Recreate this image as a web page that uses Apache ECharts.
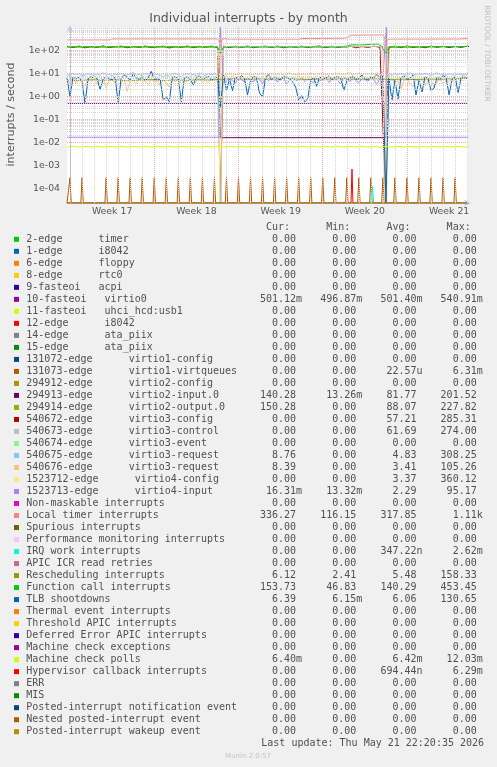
<!DOCTYPE html>
<html><head><meta charset="utf-8">
<script src="https://cdn.jsdelivr.net/npm/echarts@6/dist/echarts.min.js"></script>
<style>html,body{margin:0;padding:0;background:#F0F0F0}#c{width:497px;height:767px}</style>
</head><body><div id="c"></div>
<script>
// ---------- axis ranges (days since Sunday of week 17) ----------
const X_MIN = -0.25, X_MAX = 33.07;
const Y_MIN = 2.39e-5, Y_MAX = 962;
const WEEK_LABELS = ['Week 17', 'Week 18', 'Week 19', 'Week 20', 'Week 21'];
const WEEK_STARTS = [0, 7, 14, 21, 28];
const REBOOT1 = 12.5, REBOOT2 = 26.25;
const SPIKE_TOP = 2000;

// ---------- series values ----------
const VIRTIO0 = [[-0.25, 0.506], [33.07, 0.506]];
const VQ_SPIKES = [[0,3e-4],[1,3e-4],[3,3e-4],[4,3e-4],[5,3e-4],[6,3e-4],[7,3e-4],[8,3e-4],[9,3e-4],[10,3e-4],[11,3e-4],[12,3e-4],[13,3e-4],[14,3e-4],[15,3e-4],[16,3e-4],[17,3e-4],[18,3e-4],[19,3e-4],[20,3e-4],[21,3e-4],[22,3e-4],[23,3e-4],[24,3e-4],[25,3e-4],[26,3e-4],[27,3e-4],[28,3e-4],[29,3e-4],[30,3e-4],[31,3e-4],[32,3e-4]];
const V2IN_A = [155,136,158,132,150,138,160,134,148,157,133,152,137,159,135,146,156,131,150,139,158,134,153,140,157,136];
const V2IN_LOW = 0.0165;
const V2IN_C = [140,156,134,158,137,150,133,157,139,155,135,152,138,156,140];
const V2OUT = [[-0.25,150],[12.25,150],[12.5,0],[26.25,0],[26.5,150],[33.07,150]];
const V3CFG_B = [157,134,155,138,159,133,150,156,136,158,132,153,139,157,135,151,158,134,156,137,152,159,133,150,138,155,140];
const V3CTL = [[-0.25,0],[12.5,0],[12.75,150],[26.0,150],[26.25,0],[33.07,0]];
const LB_A = [9.2,8.1,10.4,8.8,9.6,7.9,8.5,10.1,9.0,8.3, 9.7,8.6,10.8,8.9,9.3,7.8,9.9,8.4,10.2,9.1, 8.7,9.8,11.2,8.5,9.4,8.0,10.3,9.2,12.5,8.8, 9.5,8.2,7.1,8.9,7.6,9.7,10.5,8.6,7.4,9.3, 10.1,8.7,9.4,8.1,10.6,9.0,8.4,9.8,8.9,9.5, 8.8];
const LB_C = [9.6,8.3,9.9, 8.7,10.2,9.1,8.5,10.7,9.3,8.6,9.8,8.9,10.4, 9.2,8.4,9.7,10.9,8.8,9.5,8.2,9.9,9.0,8.6, 9.4,8.9,9.6,8.8];
const LO_A = [5.2,4.1,6.3,3.8,5.6,4.7,2.9,5.9,4.4,6.1, 3.5,4.9,5.7,2.4,4.6,5.3,3.9,6.0,4.2,5.5, 1.7,4.8,5.1,3.6,6.4,4.5,5.0,3.3,5.8,4.3, 4.9,3.1,5.4,4.0,2.6,5.7,4.4,6.2,3.7,5.0, 4.6,5.5,3.4,4.8,6.0,4.1,5.2,3.9,5.6,4.7, 5.0];
const LO_C = [4.2,5.6,3.5, 5.1,2.2,4.7,5.9,3.8,2.7,5.3,4.5,6.1,3.2, 4.9,5.6,2.5,4.3,5.8,3.6,5.0,4.4,6.3,3.9, 5.4,7.6,8.9,8.4];
const YE_B = [9.1,8.2,10.5,7.8,9.6,8.7,11.0,8.4, 9.9,7.6,10.3,8.9,9.2,11.4,8.1,9.7,10.6,8.5, 9.4,10.8,8.3,9.0,11.6,8.8,9.5,7.9,10.1,9.3, 8.6,10.4,9.8,8.0,11.1,9.2,8.7,10.0,9.6,8.4, 10.7,9.1,8.5,9.9,11.3,8.9,9.4,10.2,8.2,9.7, 10.5,8.8,9.3,11.8,9.0,10.1];
const LV_LOW = 0.0172;
const LV_B = [5.8,4.6,6.9,5.1,3.9,6.3,5.5,4.2, 6.7,5.0,4.4,7.2,5.6,3.7,6.1,4.8,5.9,6.6, 4.3,5.7,6.4,3.5,5.2,6.8,4.9,5.4,7.0,4.5, 6.0,5.3,3.8,6.5,4.7,5.8,7.3,4.1,5.6,6.2, 4.9,3.6,6.8,5.5,4.4,7.1,5.0,3.9,6.4,5.7, 4.6,6.9,5.2,3.4,6.1,5.5];
const LOCAL_TIMER = [[-0.25,292],[3.3,292],[3.5,323],[12.25,323],[12.5,230],[12.75,350],[13.0,313],[19.1,313],[19.3,335],[22.6,346],[23.1,367],[23.3,470],[26.0,481],[26.25,264],[26.5,313],[32.5,320],[33.07,346]];
const IRQ_WORK = [[-0.25,0],[25.03,0],[25.13,1.3e-4],[25.23,0],[33.07,0]];
const RESCHED = [5.2,5.0,5.4,5.1,5.3,4.9,5.2,5.5,5.0,5.3,5.1,5.4,5.2, 5.9,6.1,5.7,6.0,5.8,6.2,5.9,5.6,6.0,5.8,6.1,5.7,5.9,6.0, 5.6,5.8,5.5,5.9,5.7,6.0,6.1];
const FUNC_CALL = [[-0.25,142],[12.25,142],[12.5,77],[12.75,138],[13.0,142],[23.1,142],[23.3,177],[24.3,177],[24.4,195],[25.6,195],[25.9,150],[26.25,77],[26.5,140],[32.5,148],[33.07,154]];
const TLB = [6.5,1.0,7.2,5.8,6.9,4.6,0.5,5.9,7.5,6.1, 6.2,2.1,5.6,7.9,6.0,5.5,7.1,0.5,6.3,8.4, 7.0,5.1,9.8,6.4,5.7,7.3,4.9,6.6,12.5,5.4, 6.0,5.2,0.7,1.0,0.6,6.8,7.5,5.9,0.6,6.4, 7.2,5.5,3.3,6.9,8.0,5.8,6.6,7.7,5.1,6.3, 7.0,0.35,9.5,1.8,6.2,1.8,7.4,5.6,8.2,6.1, 1.2,5.0,7.8,6.3,1.4,1.0,6.7,8.9,5.4,7.1, 6.0,5.3,7.6,6.8,5.9,4.4,2.6,0.7,1.1,0.6, 0.8,5.2,6.9,2.8,7.3,5.8,6.4,8.0,5.5,6.9, 7.5,6.1,1.9,4.8,6.6,7.9,5.7,6.3,8.7,6.0, 5.4,7.2,6.5,9.3,6.8,7.7,0,6.5,0.7,5.3, 0.8,6.7,7.9,5.6,6.3,8.8,1.2,5.1,1.6,7.4, 6.2,1.8,2.4,7.0,5.9,8.3,6.6,1.2,5.7,7.2, 1.5,6.8,7.1,6.4];
const MC_POLLS = [0.0064,0.0070,0.0064,0.0070,0.0064,0.0070,0.0064,0.0070,0.0064,0.0070,0.0064,0.0070,0.0064,0.0070,0.0064,0.0070,0.0064,0.0070,0.0064,0.0070,0.0064,0.0070,0.0064,0.0070,0.0064,0.0070,0.0064,0.0070,0.0064,0.0070,0.0064,0.0070,0.0064,0.0070,0.0064,0.0070,0.0064,0.0070,0.0064,0.0070,0.0064,0.0070,0.0064,0.0070,0.0064,0.0070,0.0064,0.0070,0.0064,0.0070,0.0064,0.0070,0.0064,0.0070,0.0064,0.0070,0.0064,0.0070,0.0064,0.0070,0.0064,0.0070,0.0064,0.0070,0.0064,0.0070,0.0064,0.0070];
const HYPERVISOR = [[-0.25,0],[23.35,0],[23.43,7e-4],[23.51,0],[33.07,0]];
const WAKEUP = [[-0.25,0],[33.07,0]];

// ---------- legend table ----------
const LEG_NAMES = ['2-edge      timer','1-edge      i8042','6-edge      floppy','8-edge      rtc0','9-fasteoi   acpi','10-fasteoi   virtio0','11-fasteoi   uhci_hcd:usb1','12-edge      i8042','14-edge      ata_piix','15-edge      ata_piix','131072-edge      virtio1-config','131073-edge      virtio1-virtqueues','294912-edge      virtio2-config','294913-edge      virtio2-input.0','294914-edge      virtio2-output.0','540672-edge      virtio3-config','540673-edge      virtio3-control','540674-edge      virtio3-event','540675-edge      virtio3-request','540676-edge      virtio3-request','1523712-edge      virtio4-config','1523713-edge      virtio4-input','Non-maskable interrupts','Local timer interrupts','Spurious interrupts','Performance monitoring interrupts','IRQ work interrupts','APIC ICR read retries','Rescheduling interrupts','Function call interrupts','TLB shootdowns','Thermal event interrupts','Threshold APIC interrupts','Deferred Error APIC interrupts','Machine check exceptions','Machine check polls','Hypervisor callback interrupts','ERR','MIS','Posted-interrupt notification event','Nested posted-interrupt event','Posted-interrupt wakeup event'];
const LEG_COLORS = ['#00CC00','#0066B3','#FF8000','#FFCC00','#330099','#990099','#CCFF00','#FF0000','#808080','#008F00','#00487D','#B35A00','#B38F00','#6B006B','#8FB300','#B30000','#BEBEBE','#80FF80','#80C9FF','#FFC080','#FFE680','#AA80FF','#EE00CC','#FF8080','#666600','#FFBFFF','#00FFCC','#CC6699','#999900','#00CC00','#0066B3','#FF8000','#FFCC00','#330099','#990099','#CCFF00','#FF0000','#808080','#008F00','#00487D','#B35A00','#B38F00'];
const CUR  = ['0.00','0.00','0.00','0.00','0.00','501.12m','0.00','0.00','0.00','0.00','0.00','0.00','0.00','140.28','150.28','0.00','0.00','0.00','8.76','8.39','0.00','16.31m','0.00','336.27','0.00','0.00','0.00','0.00','6.12','153.73','6.39','0.00','0.00','0.00','0.00','6.40m','0.00','0.00','0.00','0.00','0.00','0.00'];
const MINV = ['0.00','0.00','0.00','0.00','0.00','496.87m','0.00','0.00','0.00','0.00','0.00','0.00','0.00','13.26m','0.00','0.00','0.00','0.00','0.00','0.00','0.00','13.32m','0.00','116.15','0.00','0.00','0.00','0.00','2.41','46.83','6.15m','0.00','0.00','0.00','0.00','0.00','0.00','0.00','0.00','0.00','0.00','0.00'];
const AVG  = ['0.00','0.00','0.00','0.00','0.00','501.40m','0.00','0.00','0.00','0.00','0.00','22.57u','0.00','81.77','88.07','57.21','61.69','0.00','4.83','3.41','3.37','2.29','0.00','317.85','0.00','0.00','347.22n','0.00','5.48','140.29','6.06','0.00','0.00','0.00','0.00','6.42m','694.44n','0.00','0.00','0.00','0.00','0.00'];
const MAXV = ['0.00','0.00','0.00','0.00','0.00','540.91m','0.00','0.00','0.00','0.00','0.00','6.31m','0.00','201.52','227.82','285.31','274.00','0.00','308.25','105.26','360.12','95.17','0.00','1.11k','0.00','0.00','2.62m','0.00','158.33','453.45','130.65','0.00','0.00','0.00','0.00','12.03m','6.29m','0.00','0.00','0.00','0.00','0.00'];
const HEADERS = ['Cur:', 'Min:', 'Avg:', 'Max:'];
const LAST_UPDATE = 'Last update: Thu May 21 22:20:35 2026';

// ---------- helpers ----------
const G0 = -0.25, Q = 0.25, H = 0.5, D1 = 1, T2 = 0.1;
function onGrid(start, step, vals) { return vals.map((v, k) => [start + step * k, v]); }
function gi(i) { return G0 + Q * i; }
function line(name, color, pts) {
  return { type: 'line', name, data: pts.map(p => [p[0], p[1] <= 0 ? Y_MIN : p[1]]),
    showSymbol: false, symbol: 'none', silent: true, clip: true, animation: false,
    lineStyle: { color, width: 1 }, itemStyle: { color }, emphasis: { disabled: true } };
}
const C = LEG_COLORS;

const vq = [[X_MIN, 0]];
VQ_SPIKES.forEach(s => { vq.push([s[0] - T2, 0], [s[0], s[1]], [s[0] + T2, 0]); });
vq.push([X_MAX, 0]);

const v2in = onGrid(G0, H, V2IN_A).concat([[REBOOT1, V2IN_LOW], [REBOOT2, V2IN_LOW]], onGrid(26.5, H, V2IN_C));
const v3cfg = [[X_MIN, 0], [REBOOT1, 0]].concat(onGrid(12.75, H, V3CFG_B), [[REBOOT2, 0], [X_MAX, 0]]);
const lb = onGrid(G0, Q, LB_A).concat([[REBOOT1, 0], [REBOOT2, 0]], onGrid(gi(107), Q, LB_C));
const lo = onGrid(G0, Q, LO_A).concat([[REBOOT1, SPIKE_TOP], [REBOOT1 + T2, 0], [REBOOT2 - T2, 0], [REBOOT2, SPIKE_TOP]], onGrid(gi(107), Q, LO_C));
const ye = [[X_MIN, 0], [REBOOT1 - T2, 0], [REBOOT1, SPIKE_TOP]].concat(onGrid(gi(52), Q, YE_B), [[REBOOT2, SPIKE_TOP], [REBOOT2 + T2, 0], [X_MAX, 0]]);
const lv = [[X_MIN, LV_LOW], [REBOOT1 - T2, LV_LOW], [REBOOT1 - T2 / 2, SPIKE_TOP]].concat(onGrid(gi(52), Q, LV_B), [[REBOOT2 + T2 / 2, SPIKE_TOP], [REBOOT2 + T2, LV_LOW], [X_MAX, LV_LOW]]);
const resched = onGrid(G0, D1, RESCHED).concat([[X_MAX, RESCHED[RESCHED.length - 1]]]);

// grid lines
const vMinor = [], vMajor = [], hMinor = [], hMajor = [];
for (let d = 0; d <= 33; d++) (WEEK_STARTS.indexOf(d) >= 0 ? vMajor : vMinor).push(d);
for (let e = -5; e <= 2; e++) {
  const b = Math.pow(10, e);
  if (b > Y_MIN && b < Y_MAX) hMajor.push(b);
  for (let k = 2; k <= 9; k++) { const v = k * b; if (v > Y_MIN && v < Y_MAX) hMinor.push(v); }
}
const MINOR = { color: '#D4D4D4', type: [1, 1], width: 1 };
const MAJOR = { color: '#F2ABAB', type: [1, 1], width: 1 };
const gridSeries = {
  type: 'line', data: [[X_MIN, Y_MAX]], symbol: 'none', silent: true, lineStyle: { opacity: 0 }, animation: false,
  markLine: { silent: true, symbol: ['none', 'none'], label: { show: false }, animation: false, emphasis: { disabled: true },
    data: [].concat(
      vMinor.map(d => ({ xAxis: d, lineStyle: MINOR })),
      hMinor.map(v => ({ yAxis: v, lineStyle: MINOR })),
      vMajor.map(d => ({ xAxis: d, lineStyle: MAJOR })),
      hMajor.map(v => ({ yAxis: v, lineStyle: MAJOR }))) }
};

// graphics: titles and legend
const TXT = '#505050';
const MONO = '10px "DejaVu Sans Mono"';
const g = [];
function txt(x, y, text, font, fill, align, extra) {
  g.push(Object.assign({ type: 'text', x, y, silent: true, z: 100,
    style: { text, font, fill, align: align || 'left', verticalAlign: 'middle' } }, extra || {}));
}
txt(248.5, 19, 'Individual interrupts - by month', '12.5px "DejaVu Sans"', '#555', 'center');
txt(11, 114.5, 'interrupts / second', '11px "DejaVu Sans"', '#555', 'center', { rotation: Math.PI / 2 });
txt(487, 53.5, 'RRDTOOL / TOBI OETIKER', '7.5px "DejaVu Sans"', '#BDBDBD', 'center', { rotation: -Math.PI / 2 });
const ROW_Y0 = 239.3, ROW_H = 12.01, CH = 6.02;
const COL_X = [260, 320.2, 380.4, 440.6];
HEADERS.forEach((h, k) => txt(COL_X[k] + CH, ROW_Y0 - ROW_H, h, MONO, TXT));
function pad(s) { return (s + (/[a-zA-Z]$/.test(s) ? '' : ' ')).padStart(7, ' '); }
LEG_NAMES.forEach((n, i) => {
  const y = ROW_Y0 + i * ROW_H;
  g.push({ type: 'rect', silent: true, z: 100, shape: { x: 14, y: y - 2.5, width: 5, height: 5 }, style: { fill: LEG_COLORS[i] } });
  txt(26.3, y, n, MONO, TXT);
  [CUR, MINV, AVG, MAXV].forEach((arr, k) => txt(COL_X[k], y, pad(arr[i]), MONO, TXT));
});
txt(261.3, ROW_Y0 + 42 * ROW_H, LAST_UPDATE, MONO, TXT);
txt(248, 756, 'Munin 2.0.57', '7px "DejaVu Sans"', '#C4C4C4', 'center');

function expLabel(v) {
  const l = Math.log10(v), e = Math.round(l);
  if (Math.abs(l - e) > 1e-6) return '';
  return '1e' + (e < 0 ? '-' : '+') + String(Math.abs(e)).padStart(2, '0');
}
const AXIS_COL = '#B8C6F6';
const option = {
  animation: false,
  backgroundColor: '#F0F0F0',
  grid: { left: 67, right: 29, top: 28, bottom: 564, show: true, backgroundColor: '#FFFFFF', borderWidth: 0, containLabel: false, outerBoundsMode: 'none' },
  xAxis: {
    type: 'value', min: X_MIN, max: X_MAX,
    axisLine: { show: true, lineStyle: { color: AXIS_COL, width: 1 }, symbol: ['none', 'arrow'], symbolSize: [5, 7], symbolOffset: [0, 3] },
    axisTick: { show: false },
    splitLine: { show: false },
    axisLabel: { customValues: WEEK_STARTS.map(s => s + 3.5), formatter: v => WEEK_LABELS[WEEK_STARTS.indexOf(Math.round(v - 3.5))] || '',
      fontFamily: 'DejaVu Sans', fontSize: 9.33, color: '#555', margin: 4, showMinLabel: true, showMaxLabel: true }
  },
  yAxis: {
    type: 'log', logBase: 10, min: Y_MIN, max: Y_MAX,
    axisLine: { show: true, lineStyle: { color: AXIS_COL, width: 1 }, symbol: ['none', 'arrow'], symbolSize: [5, 7], symbolOffset: [0, 3] },
    axisTick: { show: false },
    splitLine: { show: false }, minorSplitLine: { show: false },
    axisLabel: { formatter: expLabel, fontFamily: 'DejaVu Sans', fontSize: 9.33, color: '#555', margin: 7 }
  },
  series: [
    gridSeries,
    line('virtio0', C[5], VIRTIO0),
    line('virtio1-virtqueues', C[11], vq),
    line('virtio2-input.0', C[13], v2in),
    line('virtio2-output.0', C[14], V2OUT),
    line('virtio3-config', C[15], v3cfg),
    line('virtio3-control', C[16], V3CTL),
    line('virtio3-request', C[18], lb),
    line('virtio3-request b', C[19], lo),
    line('virtio4-config', C[20], ye),
    line('virtio4-input', C[21], lv),
    line('Local timer interrupts', C[23], LOCAL_TIMER),
    line('IRQ work interrupts', C[26], IRQ_WORK),
    line('Rescheduling interrupts', C[28], resched),
    line('Function call interrupts', C[29], FUNC_CALL),
    line('TLB shootdowns', C[30], onGrid(G0, Q, TLB)),
    line('Machine check polls', C[35], onGrid(G0, H, MC_POLLS)),
    line('Hypervisor callback interrupts', C[36], HYPERVISOR),
    line('Posted-interrupt wakeup event', C[41], WAKEUP)
  ],
  graphic: { elements: g }
};
const chart = echarts.init(document.getElementById('c'), null, { renderer: 'canvas' });
chart.setOption(option);
</script></body></html>
